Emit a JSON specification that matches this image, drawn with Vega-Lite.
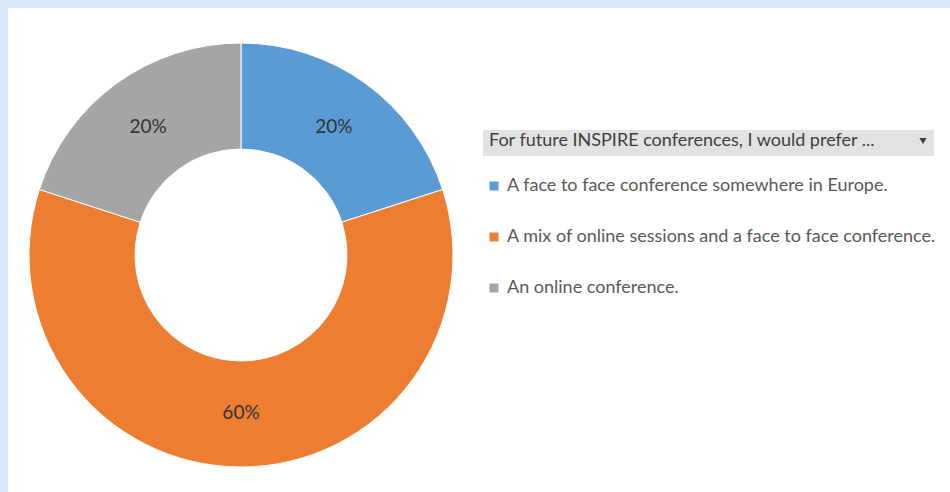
{
  "$schema": "https://vega.github.io/schema/vega-lite/v6.json",
  "background": "#d5e7f8",
  "padding": {"left": 8, "top": 8, "right": 0, "bottom": 0},
  "spacing": 0,
  "config": {"view": {"stroke": null, "fill": "white"}, "font": "Lato"},
  "datasets": {
    "responses": [
      {"answer": "A face to face conference somewhere in Europe.", "share": 0.2},
      {"answer": "A mix of online sessions and a face to face conference.", "share": 0.6},
      {"answer": "An online conference.", "share": 0.2}
    ],
    "menu": [{"menu": "▾"}]
  },
  "hconcat": [
    {
      "width": 466,
      "height": 484,
      "view": {"fill": "white", "stroke": null},
      "data": {"name": "responses"},
      "encoding": {
        "theta": {"field": "share", "type": "quantitative", "stack": true},
        "order": {"field": "answer", "type": "ordinal", "sort": "ascending"},
        "color": {
          "field": "answer",
          "type": "nominal",
          "scale": {"range": ["#5b9bd5", "#ed7d31", "#a5a5a5"]},
          "legend": {
            "orient": "none",
            "legendX": 477,
            "legendY": 169,
            "title": null,
            "symbolType": "square",
            "symbolSize": 80,
            "symbolStrokeWidth": 0,
            "labelFontSize": 18,
            "labelColor": "#595959",
            "labelOffset": 4,
            "rowPadding": 33,
            "labelLimit": 600,
            "padding": 0
          }
        }
      },
      "layer": [
        {"mark": {"type": "arc", "outerRadius": 212, "innerRadius": 106, "stroke": "white", "strokeWidth": 1, "yOffset": 5}},
        {
          "mark": {"type": "text", "radius": 158, "fontSize": 19, "yOffset": 5},
          "encoding": {
            "text": {"field": "share", "type": "quantitative", "format": ".0%"},
            "color": {"value": "#333333"},
            "detail": {"field": "answer", "type": "nominal"}
          }
        }
      ]
    },
    {
      "width": 476,
      "height": 484,
      "view": {"fill": "white", "stroke": null},
      "data": {"name": "menu"},
      "mark": {"type": "point", "filled": true, "opacity": 0, "color": "#404040"},
      "encoding": {
        "shape": {
          "field": "menu",
          "type": "nominal",
          "scale": {"range": ["triangle-down"]},
          "legend": {
            "orient": "none",
            "legendX": 475,
            "legendY": 122,
            "title": "For future INSPIRE conferences, I would prefer ...",
            "titleOrient": "left",
            "titleFontSize": 18,
            "titleFontWeight": "normal",
            "titleColor": "#404040",
            "titlePadding": 42,
            "titleLimit": 600,
            "labelExpr": "''",
            "labelOffset": 0,
            "symbolSize": 50,
            "symbolFillColor": "#404040",
            "symbolStrokeWidth": 0,
            "symbolOpacity": 1,
            "fillColor": "#e2e2e2",
            "padding": 6
          }
        }
      }
    }
  ]
}
